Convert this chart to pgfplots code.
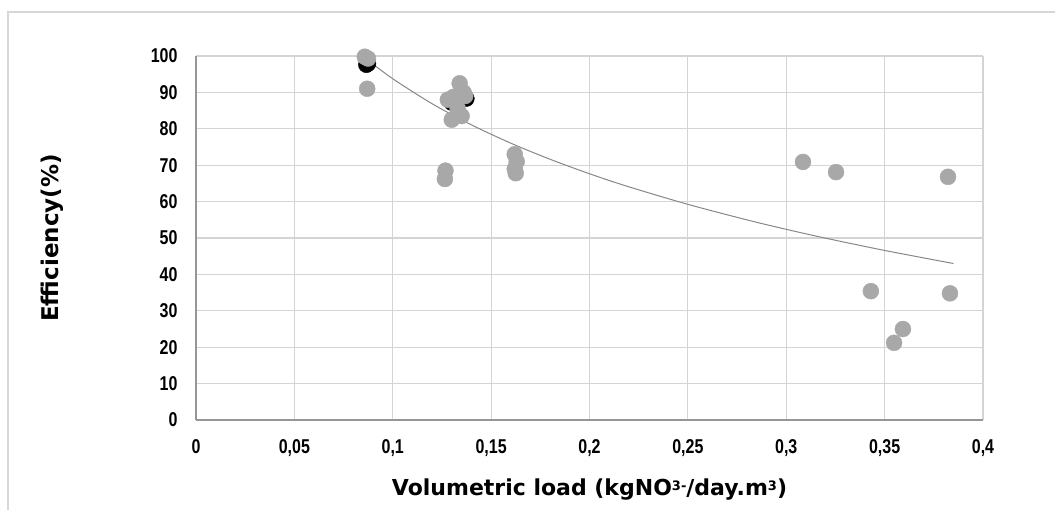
\documentclass[border=0pt]{standalone}
\usepackage{pgfplots}
\pgfplotsset{compat=1.18}
\usepackage{fontspec}
\setmainfont{Liberation Sans}
\newfontfamily\labelfont{DejaVu Sans}
\definecolor{ptgray}{RGB}{168,168,168}
\definecolor{gridgray}{RGB}{212,212,212}
\definecolor{axisgray}{RGB}{150,150,150}
\definecolor{trendgray}{RGB}{135,135,135}
\definecolor{framegray}{RGB}{215,215,215}
\newcommand{\tl}[1]{\scalebox{1}[1.25]{#1}}

\begin{document}
\begin{tikzpicture}
\useasboundingbox (-196pt,-90pt) rectangle (859pt,420pt);
\draw[framegray, line width=1.5pt] (-188pt,-90pt) -- (-188pt,408pt) -- (859pt,408pt);
\begin{axis}[
    scale only axis,
    width=787pt,
    height=364pt,
    xmin=0, xmax=0.4,
    ymin=0, ymax=100,
    xtick={0,0.05,0.1,0.15,0.2,0.25,0.3,0.35,0.4},
    xticklabels={\tl{0},\tl{0,05},\tl{0,1},\tl{0,15},\tl{0,2},\tl{0,25},\tl{0,3},\tl{0,35},\tl{0,4}},
    ytick={0,10,...,100},
    yticklabel={\tl{\pgfmathprintnumber{\tick}}},
    /pgf/number format/assume math mode=true,
    tick label style={font=\bfseries\fontsize{16}{16}\selectfont},
    xticklabel style={yshift=-16pt},
    yticklabel style={xshift=-15pt},
    major tick length=0pt,
    axis lines*=left,
    axis line style={axisgray, line width=1.2pt},
    grid=major,
    grid style={gridgray, line width=1.2pt},
    xlabel={Volumetric load (kgNO{\fontsize{13}{13}\selectfont\raisebox{0.45em}{3-}}/day.m{\fontsize{13}{13}\selectfont\raisebox{0.45em}{3}})},
    ylabel={Efficiency(\%)},
    xlabel style={font=\labelfont\bfseries\fontsize{22}{22}\selectfont, at={(axis description cs:0.5,-0.192)}, anchor=center},
    ylabel style={font=\labelfont\bfseries\fontsize{23}{23}\selectfont, at={(axis description cs:-0.183,0.5)}, anchor=center},
    clip=false,
]
% trend line (logarithmic fit)
\addplot[trendgray, line width=1pt, smooth] coordinates {
    (0.087,99.0) (0.1,93.75) (0.12,86.89) (0.14,81.08) (0.16,76.05)
    (0.18,71.62) (0.2,67.65) (0.22,64.06) (0.25,59.25) (0.28,54.98)
    (0.3,52.38) (0.32,49.95) (0.35,46.58) (0.385,42.99)
};
% dark series, mostly hidden
\addplot[only marks, mark=*, mark size=8pt, draw=black, fill=black] coordinates {
    (0.0866,97.6) (0.0874,97.9) (0.1300,87.2) (0.1374,88.3)
};
% grey series
\addplot[only marks, mark=*, mark size=8pt, draw=ptgray, fill=ptgray] coordinates {
    (0.0858,99.8) (0.0874,99.3) (0.087,91.0)
    (0.128,88.0) (0.134,92.5) (0.136,90.0) (0.1368,89.0) (0.133,85.5)
    (0.130,82.5) (0.135,83.5) (0.131,88.8)
    (0.1265,66.2) (0.1268,68.5)
    (0.162,73.0) (0.163,71.0) (0.162,69.0) (0.1625,67.8)
    (0.3085,70.9) (0.3253,68.1) (0.3822,66.8)
    (0.343,35.4) (0.3832,34.8) (0.3593,25.0) (0.3548,21.2)
};
\end{axis}
\end{tikzpicture}
\end{document}
